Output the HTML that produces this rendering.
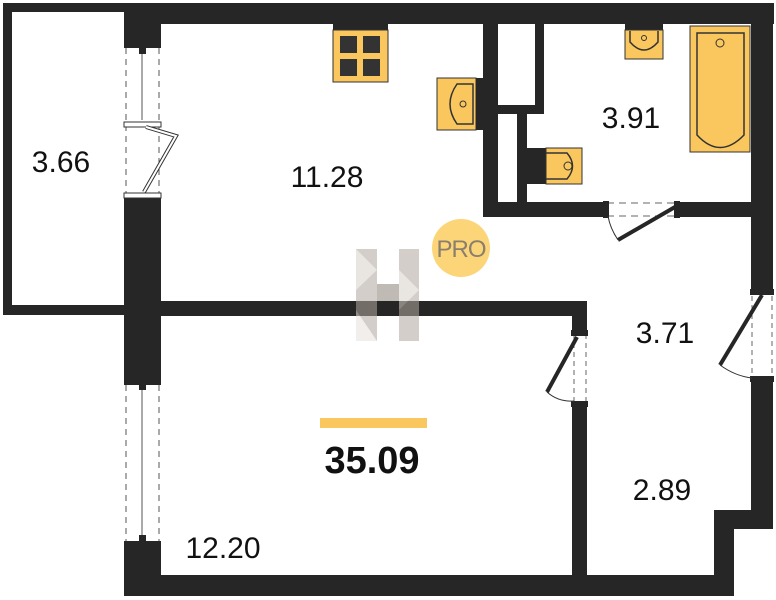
<!DOCTYPE html>
<html><head><meta charset="utf-8">
<style>html,body{margin:0;padding:0;background:#fff;}svg{display:block;}</style>
</head><body>
<svg width="776" height="600" viewBox="0 0 776 600" xmlns="http://www.w3.org/2000/svg" font-family="Liberation Sans, sans-serif">
<rect width="776" height="600" fill="#fff"/>
<g fill="#262626">
<rect x="3" y="3" width="9" height="312"/>
<rect x="3" y="3" width="125" height="9"/>
<rect x="3" y="305" width="125" height="10"/>
<rect x="124" y="3" width="650" height="21"/>
<rect x="124" y="3" width="37" height="41"/>
<rect x="124" y="197" width="37" height="183"/>
<rect x="124" y="545" width="37" height="51"/>
<rect x="161" y="301" width="426" height="15"/>
<rect x="572" y="301" width="15" height="31"/>
<rect x="572" y="405" width="15" height="191"/>
<rect x="124" y="575" width="610" height="21"/>
<rect x="751" y="3" width="22" height="290"/>
<rect x="751" y="378" width="22" height="151"/>
<rect x="714" y="510" width="59" height="19"/>
<rect x="714" y="510" width="20" height="86"/>
<rect x="483" y="3" width="15" height="214"/>
<rect x="483" y="202" width="122" height="15"/>
<rect x="678" y="202" width="95" height="15"/>
<rect x="535" y="3" width="9" height="111"/>
<rect x="497" y="105" width="47" height="9"/>
<rect x="517" y="105" width="10" height="105"/>
</g>
<g stroke="#555" stroke-width="1" fill="none">
<line x1="126" y1="48" x2="126" y2="195" stroke-dasharray="6,5"/>
<line x1="159" y1="48" x2="159" y2="195" stroke-dasharray="6,5"/>
<line x1="142" y1="48" x2="142" y2="120"/>
</g>
<rect x="124" y="43" width="37" height="5" fill="#262626"/>
<rect x="139" y="48" width="7" height="6" fill="#262626"/>
<rect x="124" y="122" width="37" height="5" fill="#fff" stroke="#333"/>
<rect x="124" y="193" width="37" height="5" fill="#fff" stroke="#333"/>
<polyline points="146,127 176,136 144,192" fill="none" stroke="#333" stroke-width="4"/>
<polyline points="146,127 176,136 144,192" fill="none" stroke="#fff" stroke-width="2"/>
<g stroke="#555" stroke-width="1" fill="none">
<line x1="126" y1="385" x2="126" y2="542" stroke-dasharray="6,5"/>
<line x1="159" y1="385" x2="159" y2="542" stroke-dasharray="6,5"/>
<line x1="142" y1="385" x2="142" y2="540"/>
</g>
<rect x="124" y="380" width="37" height="5" fill="#262626"/>
<rect x="124" y="541" width="37" height="5" fill="#262626"/>
<rect x="139" y="384" width="7" height="6" fill="#262626"/>
<rect x="139" y="535" width="7" height="6" fill="#262626"/>
<g stroke="#666" stroke-dasharray="5,4" fill="none"><line x1="574" y1="334" x2="574" y2="404"/><line x1="586" y1="334" x2="586" y2="404"/></g>
<rect x="571" y="330" width="17" height="6" fill="#262626"/>
<rect x="571" y="401" width="17" height="6" fill="#262626"/>
<line x1="577" y1="337" x2="547" y2="392" stroke="#262626" stroke-width="4"/>
<path d="M547 392 Q558 402 574 401" fill="none" stroke="#333" stroke-width="1"/>
<g stroke="#666" stroke-dasharray="5,4" fill="none"><line x1="752" y1="296" x2="752" y2="376"/><line x1="772" y1="296" x2="772" y2="376"/></g>
<rect x="750" y="289" width="24" height="6" fill="#262626"/>
<rect x="750" y="376" width="24" height="6" fill="#262626"/>
<line x1="762" y1="295" x2="720" y2="365" stroke="#262626" stroke-width="4"/>
<path d="M720 365 Q735 376 752 378" fill="none" stroke="#333" stroke-width="1"/>
<g stroke="#666" stroke-dasharray="7,5" fill="none"><line x1="607" y1="203" x2="676" y2="203"/><line x1="607" y1="216" x2="676" y2="216"/></g>
<rect x="603" y="201" width="6" height="17" fill="#262626"/>
<rect x="674" y="201" width="6" height="17" fill="#262626"/>
<line x1="675" y1="207" x2="618" y2="240" stroke="#262626" stroke-width="4"/>
<path d="M618 240 Q610 228 608 216" fill="none" stroke="#333"/>
<rect x="333" y="24" width="55" height="6" fill="#262626"/>
<rect x="333" y="30" width="55" height="52" fill="#f9c75e" stroke="#333" stroke-width="1"/>
<g fill="#333"><rect x="340" y="36" width="17" height="17"/><rect x="363" y="36" width="17" height="17"/><rect x="340" y="59" width="17" height="17"/><rect x="363" y="59" width="17" height="17"/></g>
<rect x="437" y="78" width="39" height="52" fill="#f9c75e" stroke="#333"/>
<rect x="476" y="78" width="7" height="52" fill="#262626"/>
<path d="M473 84 H457 Q443 104 457 124 H473 Z" fill="none" stroke="#333" stroke-width="1.5"/>
<circle cx="463" cy="104" r="3" fill="none" stroke="#333"/>
<rect x="625" y="24" width="38" height="6" fill="#262626"/>
<rect x="625" y="30" width="38" height="29" fill="#f9c75e" stroke="#333"/>
<path d="M630 31 V42 Q644 58 658 42 V31" fill="none" stroke="#333" stroke-width="1.5"/>
<circle cx="644" cy="38" r="2.5" fill="none" stroke="#333"/>
<rect x="690" y="26" width="60" height="126" fill="#f9c75e" stroke="#333"/>
<path d="M697 33 H744 V135 Q720 160 697 135 Z" fill="none" stroke="#333" stroke-width="1.5"/>
<circle cx="720" cy="43" r="4" fill="none" stroke="#333"/>
<rect x="527" y="148" width="19" height="36" fill="#262626"/>
<rect x="546" y="148" width="36" height="36" fill="#f9c75e" stroke="#333"/>
<path d="M546 153 H567 Q578 166 567 179 H546" fill="none" stroke="#333" stroke-width="1.5"/>
<circle cx="568" cy="166" r="4" fill="none" stroke="#333"/>
<g opacity="0.55">
<rect x="356" y="249" width="21" height="92" fill="#b0a79d"/>
<rect x="399" y="249" width="20" height="92" fill="#b0a79d"/>
<rect x="377" y="284" width="22" height="17" fill="#8c8278"/>
<polygon points="356,249 377,270 356,290" fill="#d8d2cb"/>
<polygon points="399,270 419,290 399,310" fill="#d8d2cb"/>
<polygon points="356,310 377,341 356,341" fill="#e6e1dc"/>
</g>
<circle cx="461" cy="248" r="29" fill="#fbd577"/>
<text x="461" y="257" font-size="24" fill="#8a7f6e" text-anchor="middle" letter-spacing="-1">PRO</text>
<g fill="#111" font-size="30">
<text x="61" y="172" text-anchor="middle">3.66</text>
<text x="327" y="187" text-anchor="middle">11.28</text>
<text x="631" y="128" text-anchor="middle">3.91</text>
<text x="665" y="343" text-anchor="middle">3.71</text>
<text x="662" y="500" text-anchor="middle">2.89</text>
<text x="223" y="558" text-anchor="middle">12.20</text>
</g>
<rect x="320" y="418" width="107" height="10" fill="#f9c75e"/>
<text x="372" y="473" font-size="38" font-weight="bold" fill="#111" text-anchor="middle">35.09</text>
</svg>
</body></html>
